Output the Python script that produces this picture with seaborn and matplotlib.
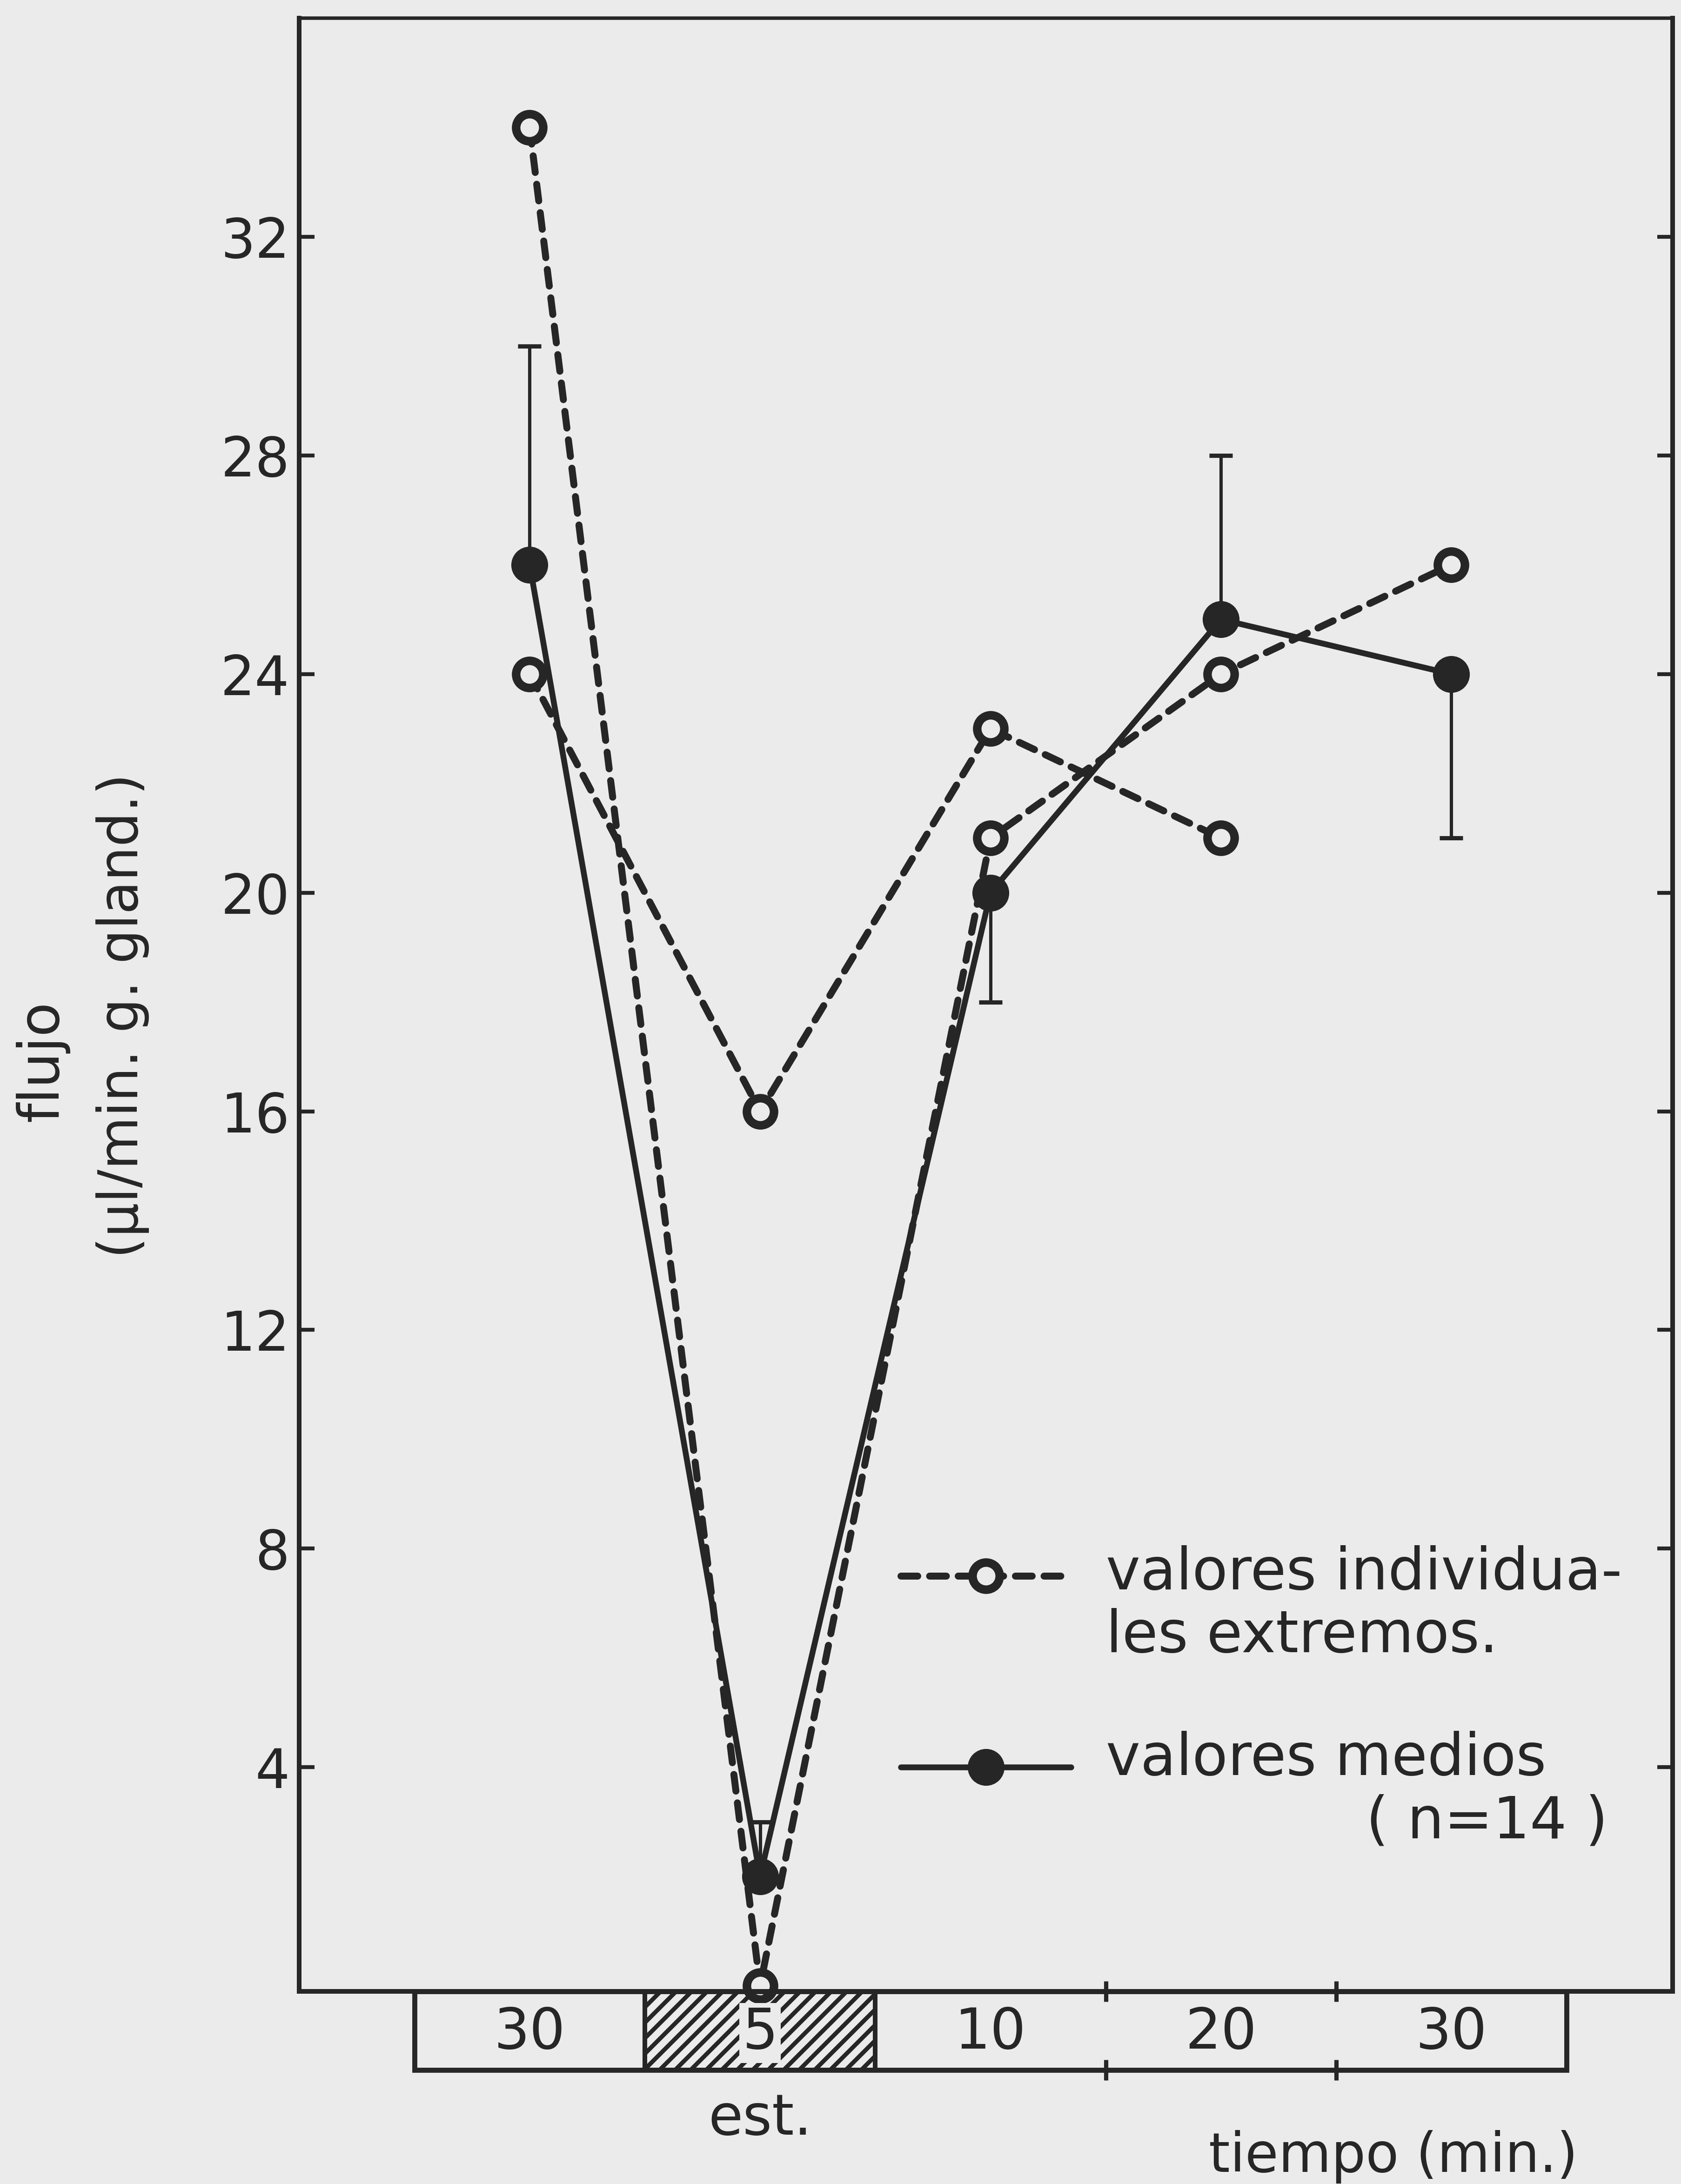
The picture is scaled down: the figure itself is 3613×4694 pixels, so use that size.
import numpy as np
import pandas as pd
import matplotlib
matplotlib.use("Agg")
import matplotlib.pyplot as plt
import seaborn as sns
from matplotlib.patches import Rectangle

# ---------------- data ----------------
period_labels = ["30", "5", "10", "20", "30"]
period_pos = [0, 1, 2, 3, 4]
stim_index = 1                                       # hatched period ("est.")
mean_vals = [26.0, 2.0, 20.0, 25.0, 24.0]          # valores medios (n=14)
mean_err_end = [30.0, 3.0, 18.0, 28.0, 21.0]       # end of one-sided error bar
ext_a_pos = [0, 1, 2, 3, 4]
ext_a_vals = [34.0, 0.0, 21.0, 24.0, 26.0]         # extreme individual values (A)
ext_b_pos = [0, 1, 2, 3]
ext_b_vals = [24.0, 16.0, 23.0, 21.0]              # extreme individual values (B)
y_ticks = [4, 8, 12, 16, 20, 24, 28, 32]

BG = "#ebebeb"
INK = "#262626"

sns.set_style("ticks")
plt.rcParams["font.family"] = ["DejaVu Sans"]
plt.rcParams["hatch.linewidth"] = 2.2
plt.rcParams["hatch.color"] = INK

W, H, DPI = 3613, 4694, 300
fig = plt.figure(figsize=(W / DPI, H / DPI), dpi=DPI, facecolor=BG)

L, R, B, T = 0.178, 0.995, 0.0882, 0.9917
ax = fig.add_axes([L, B, R - L, T - B])
ax.set_facecolor(BG)

df_a = pd.DataFrame({"x": ext_a_pos, "y": ext_a_vals})
df_b = pd.DataFrame({"x": ext_b_pos, "y": ext_b_vals})
df_m = pd.DataFrame({"x": period_pos, "y": mean_vals})

OPEN_MS, OPEN_MEW = 14, 4.4
FILL_MS = 18
dash_kw = dict(color=INK, linewidth=3.6, linestyle=(0, (2.4, 1.7)),
               dash_capstyle="round", marker="o", markersize=OPEN_MS,
               markerfacecolor=BG, markeredgecolor=INK, markeredgewidth=OPEN_MEW,
               clip_on=False, zorder=3)
sns.lineplot(data=df_a, x="x", y="y", ax=ax, sort=False, errorbar=None, **dash_kw)
sns.lineplot(data=df_b, x="x", y="y", ax=ax, sort=False, errorbar=None, **dash_kw)

# one-sided error bars on the means
mv = np.array(mean_vals)
me = np.array(mean_err_end)
lower = np.where(me < mv, mv - me, 0.0)
upper = np.where(me > mv, me - mv, 0.0)
ax.errorbar(period_pos, mean_vals, yerr=[lower, upper], fmt="none",
            ecolor=INK, elinewidth=1.7, capsize=6, capthick=2.2, zorder=2)

sns.lineplot(data=df_m, x="x", y="y", ax=ax, sort=False, errorbar=None,
             color=INK, linewidth=3.0, marker="o", markersize=FILL_MS,
             markerfacecolor=INK, markeredgecolor=INK, markeredgewidth=1,
             clip_on=False, zorder=4)

ax.set_xlim(-1.0, 4.96)
ax.set_ylim(-0.1, 36.0)
ax.set_xticks([])
ax.set_yticks(y_ticks)
ax.set_yticklabels([str(t) for t in y_ticks])
ax.set_xlabel("")
ax.set_ylabel("")
ax.tick_params(axis="y", direction="in", length=8, width=2.0, color=INK,
               labelsize=28, labelcolor=INK, pad=5, right=True, left=True)
for side, sp in ax.spines.items():
    sp.set_visible(True)
    sp.set_color(INK)
    sp.set_linewidth(2.4)
ax.spines["top"].set_linewidth(1.8)

# ---------------- legend (manual, like the original) ----------------
leg_x0, leg_x1, leg_xm, txt_x = 1.61, 2.35, 1.98, 2.50
ax.plot([leg_x0, leg_x1], [7.5, 7.5], color=INK, linewidth=3.6,
        linestyle=(0, (2.4, 1.7)), dash_capstyle="round", zorder=3)
ax.plot([leg_xm], [7.5], marker="o", markersize=OPEN_MS, markerfacecolor=BG,
        markeredgecolor=INK, markeredgewidth=OPEN_MEW, linestyle="none", zorder=4)
ax.text(txt_x, 7.55, "valores individua-", fontsize=30, color=INK,
        ha="left", va="center")
ax.text(txt_x, 6.4, "les extremos.", fontsize=30, color=INK,
        ha="left", va="center")
ax.plot([leg_x0, leg_x1], [4.0, 4.0], color=INK, linewidth=3.0, zorder=3)
ax.plot([leg_xm], [4.0], marker="o", markersize=FILL_MS, markerfacecolor=INK,
        markeredgecolor=INK, linestyle="none", zorder=4)
ax.text(txt_x, 4.15, "valores medios", fontsize=30, color=INK,
        ha="left", va="center")
ax.text(4.68, 3.0, "( n=14 )", fontsize=30, color=INK, ha="right", va="center")

# ---------------- time bar below the axis ----------------
bx = fig.add_axes([L, 0.0522, R - L, B - 0.0522])
bx.set_xlim(ax.get_xlim())
bx.set_ylim(0, 1)
bx.axis("off")
bx.patch.set_alpha(0)
bx.add_patch(Rectangle((period_pos[0] - 0.5, 0), len(period_pos), 1,
                       fill=False, edgecolor=INK, linewidth=2.6, clip_on=False))
bx.add_patch(Rectangle((period_pos[stim_index] - 0.5, 0), 1, 1, fill=False,
                       hatch="///", edgecolor=INK, linewidth=2.4, clip_on=False))
for p in period_pos[2:4]:
    bx.vlines(p + 0.5, -0.13, 0.13, color=INK, linewidth=2.2, clip_on=False)
    bx.vlines(p + 0.5, 0.87, 1.13, color=INK, linewidth=2.2, clip_on=False)
for i, (p, lab) in enumerate(zip(period_pos, period_labels)):
    kw = {}
    if i == stim_index:
        kw["bbox"] = dict(boxstyle="square,pad=0.05", fc=BG, ec="none")
    bx.text(p, 0.47, lab, fontsize=29, color=INK, ha="center", va="center",
            zorder=5, **kw)
bx.text(period_pos[stim_index], -0.82, "est.", fontsize=29, color=INK,
        ha="center", va="baseline")

fig.text(0.829, 0.0055, "tiempo (min.)", fontsize=28, color=INK,
         ha="center", va="baseline")

# y-axis label (two lines)
fig.text(0.025, 0.514, "flujo", fontsize=29, color=INK, rotation=90,
         ha="center", va="center")
fig.text(0.073, 0.535, "(μl/min. g. gland.)", fontsize=28, color=INK,
         rotation=90, ha="center", va="center")

fig.savefig("out.png", dpi=DPI, facecolor=BG)
